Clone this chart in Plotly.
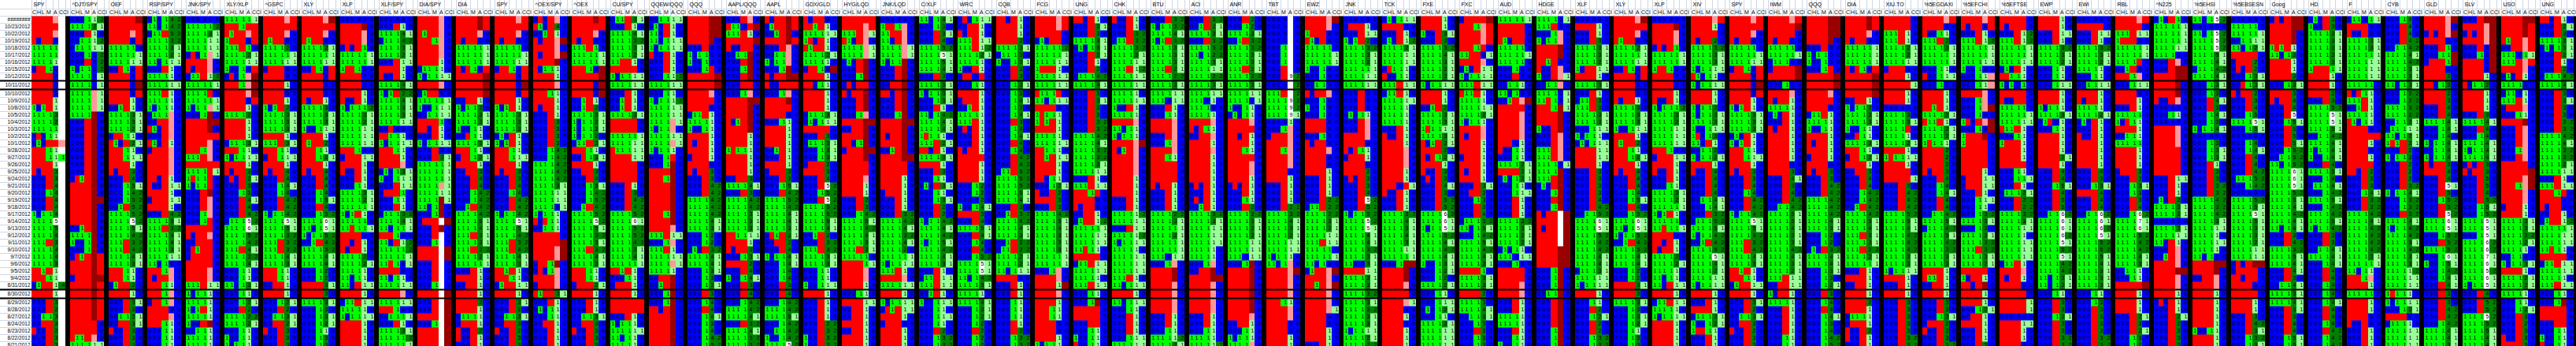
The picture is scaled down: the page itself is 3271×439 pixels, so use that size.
import sys
import plotly.graph_objects as go

# row labels (first one is too wide for the cell in the sheet)
dates = ["########", "10/23/2012", "10/22/2012", "10/19/2012", "10/18/2012", "10/17/2012",
         "10/16/2012", "10/15/2012", "10/12/2012", "10/11/2012", "10/10/2012", "10/9/2012",
         "10/8/2012", "10/5/2012", "10/4/2012", "10/3/2012", "10/2/2012", "10/1/2012",
         "9/28/2012", "9/27/2012", "9/26/2012", "9/25/2012", "9/24/2012", "9/21/2012",
         "9/20/2012", "9/19/2012", "9/18/2012", "9/17/2012", "9/14/2012", "9/13/2012",
         "9/12/2012", "9/11/2012", "9/10/2012", "9/7/2012", "9/6/2012", "9/5/2012",
         "9/4/2012", "8/31/2012", "8/30/2012", "8/29/2012", "8/28/2012", "8/27/2012",
         "8/24/2012", "8/23/2012", "8/22/2012", "8/21/2012"]
col_names = ["C", "H", "L", "M", "A", "CCI"]

# one token per date, one letter per column (C H L M A CCI)
# r=-1 red, g=1 green, b=0 blue, l=1 light green, 2-5 dark green, p pink, m maroon,
# w blank, F/S/N/7 = 5/6/9/7 on white
SPY_1 = ("rrrrpw rrrrrw rrrrpw rbrrbw gggggw gggggw gggglw brrgbw rrrrbw rrrrbw "
         "rrrrbw rrrrlw gbgrlw gggg3w gggg2w gggggw brbglw bgbrrp rrrglw rrrglg "
         "rrrrlw rbrr3w bbbr3w bbbr4w bbbg4w bbbr4w bbbr4w gbgg4w ggggFw gggg5w "
         "gggg4w gggr3w gggg4w gggg4w gggg3w rrgrlw rrrglw bgrrl4 rrrrlw bbbr3w "
         "bbbr2w bbgg3w bbrr3w rbbr2w bbbr3w bbbr3w")
DJT_SPY = ("bbbgl2 gggg2l bbbrlb bbggl2 bgggll bbbgb2 bbbrb2 gbggb2 ggggbl ggggbl "
           "ggggpl ggggpl ggggpl ggggmb bbbrmb bbbrmb bbbrmb bbbrmb bbbrmb bbbrmb "
           "bbbrmb bbbrmb brgrmb rrrrmb rrrrmb rrrrmm rrrrmb rrrrmb rrrrmb bbgrmb "
           "ggggmb gbbgmb bbbgmb brgrmr rrrrmr rrrrmr brrrmm rrrrmr rrrrmr rrrrmr "
           "rrrrmr rrrrmr rrrrrb rrrrrb rggrpb ggggll")
OEF = ("rrrrrm rrrrrr rrrrpr rrrrbr gggggb gggggl ggggll bbrgbr rrrrbr rrrrbm "
       "rrrrbr rrrrlb bbgrlb gggg3l gggg3l gggg2l brrglb rgbr2l rrrglb rrrgll "
       "rrrrlb rbrr3b bbbr4b bbbg5l bbbg42 bbbg52 bbgr52 gggg52 ggggF2 gggg5l "
       "gggg42 gggr32 gggr42 gggg4l gggg3l rrrglb rrrglb bgrr2b rrrrlb bbbr3l "
       "bbbr3b bbgg3l bbrr3l rbbr3b bbbr3b bbbr3b")
RSP_SPY = ("bgbg42 ggbg42 bggr52 gggg32 gggg3l gggg2l ggbgll bbbrlb gggglb ggggll "
           "gggrlb gggglb gbgglb bgggpb bbrrpb rgbrpb bbbrpb rgbrlb brrrpb rrrrpb "
           "rrrrpb rrrrpb rrbrlb rbbrll rrrrlb brrrll rrrrlb bbbr42 gggg5l gggr32 "
           "gggg4l gggg4l gggg3l ggggll ggbgbb rrrgpb rbrrpb rrrglb rrrgpb brrgpb "
           "rrrrbb rrrrpb rrrglb bbbglb bbbglb bbbglb")
JNK_SPY = ("bbbbbb ggggg2 gggg3l ggggll ggggll brbgpl rrrrpb rbrrpb bggrl2 gggggl "
           "ggggrb gggggl gbggpl bbbgmb rrrrmm rrrrmb rrrrrr rrrrpb rrrgpb gggrpb "
           "rrrrrr ggggrl grggrb gbggrb bbbrmb bbbrpb bbbrpb bbbgpb bbbgrb rrrrrb "
           "rbrrpb bbrrrb brgrrb brrrrb rrrrrb rrrrpb rrrrpb gggrll gbgglb gggglb "
           "gbgrlb gggglb gbbrmb bbgglb gggglb gggglb")
XLY_XLP = ("gggggl rrrgrr rgrrpr grrrbr gggrgb gggg2l ggggll gbbgbr brbgpm rrrgpm "
           "rrrrpm rrrrbr rrrrlb gggg2b rrrrlb rrrrlb rrrrlb bggg3l rrrglb gbggll "
           "rrrrlb rbrr3b brbr2l bbbr3b bbbg3b bbbr4l bbbr4b bbbr42 bgggF2 ggggSl "
           "gggg52 gggg42 gggr4l gggg32 gggg4l bbbglb bbbglb ggbg3l bbbglb bbbg2l "
           "bbbr2b gggg22 gggg2l bbbglb gbbglb gbgglb")
GSPC = ("rrrrpr rrrrrr rrrrpb rgrrbb gggg2b gggggl ggggll brrrbb rrrrbb rrrrlb "
        "rrrrbb rrrrlb gbgr2b gggg3l gggg3l gggg3l rrrrlb gggr3l rrrglb brrgll "
        "rrrrlb rbrr4b bbbr4b bbbg4l bbbg4b bbbr42 bbbr42 gbgg42 ggggFl gggg5l "
        "gggg32 gggr32 gggr32 gggg4l gggg3l rrrglb rrrglb bbrrlb rrrrlb bbbg2l "
        "bbbr2b bbgg3l bbrr2l rbbr3b bbbr3b bbbr3b")
XLY = ("rrrrpm rrrrrr rrrrpb rgrrbb gggg2l gggggl ggggll bbrgbr rrrrbr rrrrbb "
       "rrrrbb rbrrlb gggg3b gggg3l gggg3l gbbgll rrrrlb rgrr2b rrrglb rrrg2l "
       "rrrrlb rbrr4b bbbr4b bbbr4b bbbg4b bbbg5l bbbr4b bbbg52 ggggSl ggbgFl "
       "gbgg52 bbgr42 gggg52 gggg4l gggg4l bbbg2b bbbg2b rrrr3l rrrr3b gggg3l "
       "bbbg3b bbbg3l bbbg2l bbbglb bbbg3b bbbg3b")
XLP = ("bbbbbb rrrrmb rrrrpb rrrrpb brbrgb gggggl gggggl grrgbb rrrrbb rrrrbb "
       "rrrrlb rbbrlb gbggg2 gggg3l gggg2l ggggll ggggll ggggll rrrgbb brrrll "
       "rrrrlb rbbrlb bbbrlb bbbglb gggg3l gggg2l gggggl gbgrlb gggggb ggrggl "
       "rrrrbb rrbrlb rbrrlb gggg2b gggg2l gggglb ggbglb ggbrll rrrrlb bggrll "
       "gggglb gbggll rrrrlb rrrrlb rrrrlb rrrrlb")
XLF_SPY = ("bbbbbb bbbrlb gggg4l bggg42 gggg3l gggg2l bbbrll rrrrlb rbbrlb gggg4l "
           "gbgr22 gggg4l gggg3l gggg3l ggggll bbrbbb rrgglb gbggll rrrglb rrrrlb "
           "rrrrpb bgbg3l gbbgll bbbrll brrrgb bbbglb bbbrlb bggg32 gggg4l ggbggl "
           "rrrgbb ggbrl2 ggggg2 gggggl ggrgbl rrrrbb ggbglb ggggll rrrrpb ggggll "
           "rrrgbb bbgggl bbbrlb gggg3l ggggg2 gggggl")
DIA_SPY = ("rrrrpb rrrrpb rgrrpb rrrgpb rrrrpb rrrrpb rrrrlb bggglb gbggll rrrrpb "
           "bgrrbb gggggl gbbgll bbggll rrrrgb rrbrlb bbbrlb gbggll bbbrbb bbbr2l "
           "gggggl gggggl gggggl ggggpl ggggll ggggml ggbgmb bbbgmb brrrwm bbbrmb "
           "bbbrwb bbbgwb rrrrwm rrrrwm bbbrwb bbbrwb bbbrwb bbbgwb rrrrwm bbbrwm "
           "bbbrwm rrrrwm bbbgwm rrrrwm rrrrwm rrrrwm")
DIA = ("rrrrmr rrrrmr rrrrpb rbrrbb gggggl gggggl gggggl rbrgbr rrrrrm rrrrrm "
       "rrrrrm bbrrlb gbgg2b gggg3l gggg3l gbbglb bbrglb gggg3l rrrglb brrg2l "
       "rrrrlb bbrr3b bbbr4b bbbr4b bbbg42 bbbg42 bbgr42 gggg42 gggg5l gggg4l "
       "gggr3l gggg3l gggr22 gggg2l gggggl bbbrlb rrrrlb bbrrlb rrrrlb rrrr2b "
       "rrrrlb bggglb brrrlb rbbr2b rbbrlb bbbrlb")
SPY = ("rrrrpr rrrrrr rrrrpb rbrrbb gggggb gggggl ggggll brrgbr rrrrbr rrrrbm "
       "rrrrbr rrrrlb gbgrlb gggg3l gggg3l gggg3l bgbrlb gbgrlb rrrglb rrrgll "
       "rrrrlb rbrr3b bbbr3b bbbr4b bbbg4b bbbr42 bbbr42 gbgg42 ggggFl gggg5l "
       "gggg42 gggr32 gggr42 gggg4l gggg3l rrgrlb rrrglb bgrrll rrrrlb bbbr3l "
       "bbbr2b bbgg3l bbrr3b rbbr2b bbbr3b bbbr3b")
OEX_SPY = ("brbrpb rgbr4b bbgrlb rbrrpm rrrrpb rbrrpm rrrrmb rbgglb rrrrlb rrrrpb "
           "rrrglb rrrrlb rbrrlb bbbrlb bbbr3b bbbr3b bbbr3b bbbr3b bbbg42 bbbg42 "
           "gggg42 gggg42 gggg42 gggg3l ggggll ggggll ggggbl gbgglb rbrglb bbgglb "
           "rrrrrb rrrrrm rrrrpm rrrrpm brrgmb brbgpb rrrrpb brrrpb rgrr3l bbbrlb "
           "bgbglb bbbglb bbrrlb bbbrlb bbbrlb bbbrlb")
OEX = ("rrrrmr rrrrrr rrrrpb rbrrbb gggrgb gggggl gggggl rrrgbm rrrrrm rrrrbm "
       "rrrrbm bbgrlb bbgr2b gggg3l gbgg2l gbgg2l gbgg2b bggr3l rrrglb bbrg3l "
       "rrrrlb bbrr3b bbbr4b bbbg5l bbbg42 bbbg52 bbgr42 gggg52 ggggF2 gggg5l "
       "gggg32 gggg3l gggr32 gggg4l gggg3l rrrglb rrrglb brrr2l rrrrlb bbbrlb "
       "bbbrlb bbgg3l bbrr3b rbbr3b bbbr3b bbbr3b")
CU_SPY = ("bggr3l bbbrlb gggg4l gggg32 gggg3l gggg2l ggrrlb rrrrrb gbggll ggggll "
          "bbbrlb bbgrlb bbgrlb gggg3l rrrrrb rrrrrb gggggl ggggll rgggll rrrrll "
          "rrrrrb rrrrrb rrrrrb bbbrlb bbbr3b bbbr42 bbbr42 gggg52 ggggSl gggg52 "
          "gggg52 gggg42 gggg3l gggg4l gggggl rrgrlb bbbglb brrrlb rrrrlb rrrrrr "
          "rrrrrr bbbrlb gbgglb ggggll ggbglb gggglb")
QQEW_QQQ = ("bbggll bgbrlb ggbrlb ggbgll gbggll rbbrlb bbbrlb bbbrlb bbbgl2 ggggll "
            "bbbglb gbggl2 ggggll ggggll ggggpl gbggpb ggggll ggggpl gbgglb bbbgrb "
            "bbbgmb rrrrmb rrrgmb rrrrmb rrrrmb rrrrmb rrrrmb rrrgmb rrrrmb rrrrpb "
            "gggrll bbbgpb gggrlb ggggll ggggpl gggglb bbrrmb bbgrmb bbbgmb bbbgmb "
            "rrbrmb rrrrmb rrrrmb rrrrmb rrrrmb rrrrmb")
QQQ = ("rrrrmm rrrrmm rrrrmm rrrrmb bbbrbb gbggbb gbbgbb bbbgrb rrrrrm rrrrrm "
       "rrrrpb rrrrrb rrrrbb bggrlb gggglb gbbglb rrrrlb rbrrlb rrrrlb brrrlb "
       "rrrrbb rbrr3b bbbr3b bbbr42 bbbr42 gggg42 gggg42 gggg42 gggg4l gggg3l "
       "bbbg2b bbbg2b bgbr32 gggg4l gggg4l bbbg3l bbbg3b bbbg2l bbbr3b bbbg4b "
       "bbbr4b bbbg4l bbbg3b bbbg4b bbbg42 bbbg52")
AAPL_QQQ = ("bbbrpb rggbrm gggrlb rrrrrm rbbrrb bbggmb bbbrmb bbbgmb bbbrmb bbbrrb "
            "bbbgpb rrrrmm rrrrmb rrrrmb rbgrmb rrrrmb rrrrlb rrrrlb grgglb rrrrlb "
            "rrrrlb rrrrlb bbrr3b gggg4l bbbr3b gggg42 gggg42 gggg3l gggg3l gggg3l "
            "rrggll rrrrlb rbrr3b bbbg3l rrrr2b bbbr4b gbbg4l bbbr3b bbbr4b bbbg42 "
            "gggg42 gggg4l bbbr32 gggg4l gggg32 gggg32")
AAPL = ("rbrrmr bgrrmr bbgrmb rrrrmr bbbrpb bbggpb gbggpb bbbgmb rbrrmm rbbrrr "
        "bbbgpb rrrrmb rrrrrb rrrrbb bbbglb rrrrlb rrrrlb rrrrlb bbgrlb bbbrlb "
        "rrrrlb brrr3b bbbr3b bbbg5l bbbr42 gggg52 gggg42 gggg4l gggg4l gggg3l "
        "brgr2l bbrr2b bbbr4b gbgg4l bbbg4l bbbg4b bbbg4b bbbr3b bbbr4b bbbg42 "
        "gggg42 gggg5l bbbg42 bbgg42 gbbg42 ggggF2")
GDX_GLD = ("rbrrbb rrgrlb ggggll grbrlb rgrrlb gggg2l gggglb brrgbm rrrrlb rrbglb "
           "rrrrlb rrrrlb rrrrlb bggg3l bgbgll rrrrrb bbbr3b bggg3l bbbg3l bbbg3l "
           "brrr2b rrrr3b bbbr4b bbbrF2 bbbg52 bbbrF2 gggg52 gggg52 gggg5l gggg4l "
           "bbgr2b bbbr32 gggr32 gggg3l gggg3l bbbglb bbbglb gbbgll rrrrlb bbbrlb "
           "bbbrlb bbbrlb bbbr22 bbbr32 gbbr32 gbbr32")
HYG_LQD = ("rrrrrr rrrrpr gggrpl rgbrpb ggggpl ggggpl bgbrmb bbbrmb bbbgmb brbrrb "
           "rbrrmb bbbrmb bbbrmb bbbgpb rrrrmm bbrrmb rrrrmb rrbgmb brrrmm rrrrmb "
           "rrrrrb rrrrrb rrrrpb rrrrlb rrrrlb bbbr2b bbbr3b bbbg42 gggg5l gggg42 "
           "gggg4l gggg3l gggr2l gggggb rrrrgl rrrrpb rrrrpb rrrrlb bbbglb rrrrll "
           "bbrrlb bbrrlb rrrrlb bbrrlb rrrrlb rrrrlb")
JNK_LQD = ("bbbbbb grrgpb ggrrpb ggbrpb ggggpl ggggpl gbggmb bbbrmb bbbrmb bbrrmb "
           "rrbrmb bbbrmb bbbrmb bbbgmb rrrrmm rrrrmb rbrrmb rrrrmb bbgrmb rrrrmm "
           "rrrrrb rrrrrb rrrrlb rrrrlb brrrlb bbbrlb bbbrlb bbbr32 gggg42 gggg4l "
           "gggg32 gggg4l gggg2b gggggl gbggll gggrlb rrrrpb ggggll rrrrlb gbggll "
           "brgrll rrrrlb brrrbb rrrrlb rrrrlb rrrrlb")
C_XLF = ("ggbg4l bbbg3b bbbr3l bbbr4b gggg52 ggggFl gggg5l gggg4l bbbr3b gggg5l "
         "gbgg3l bbbg3l bbbrlb ggbg42 gggg4l gggg4l grgglb gggr2l rrbrlb gggg3l "
         "rrrrlb bbbr3b bbbglb bgbr3l bbbglb bbbg3l bbbr2b bbbr2b gbgg42 gggg4l "
         "gggg42 gbgg5l gggg42 gggg4l gggg3l bbbrlb bggrll gggrll bbgrlb gbbgll "
         "bbbglb bbbgll bbbglb bbbr2b bbbg32 bbbg32")
WRC = ("brbgll bbrrlb rbrrlb gggrll gggrl2 gggg2l gggglb gbbrlb brrbrb bbbglb "
       "rrrrlb brrrlb bbgrlb gggglb gggrlb brbrlb bbbrlb bbbrlb rbrrlb rrrrrb "
       "rrrrlb rrrrlb rrrrlb bbbg2b bbbg2b bbbb2b gbbg4l rrrr3b bbbr4b gggg5l "
       "bbbr4l bbbg4b bbbr4b bbbg52 ggggFl ggggFl ggbg42 gggg5l gggglb gggg4l "
       "bbbg3l bbbg2l bbbg2b bbbr2b bbbg2b bbbg2b")
CQB = ("rrbrlb rrrrlb rrrrlb rrrr2b gggg3l bggg3b gbbg3l bbbr3b bbbr3b bbbg3l "
       "bbbg3b bbbg4l bbbg3b bbbg4l bbbr3b bbbg4b bbbg4l bbbr4b bbbg4b bbbr42 "
       "bbbr42 bggr52 gggg52 gggg52 gggg5l gggg4l bbbr3b bbgr32 gggg42 gggg4l "
       "gggg3l bbgr22 bggr22 gggg2l gggg2l ggbgll rrrrbb bbbrlb bbbrlb bbbglb "
       "bbbglb bbbglb bbbrlb bbbr2b bbbg32 bbbg32")
FCG = ("rrrrpr rrrrpr rrrrrb bgbrrb ggggg2 gggggl ggggll grrrlb ggggll ggggll "
       "rgggrb ggbgll rrrrbb grgglb grgrlb rrrrlb gggglb ggggll rrgglb rrgrll "
       "rrrrlb rrrrlb rrbglb bbbg2l rbbr2b rrrr3b bbbr3b gggg42 gggg5l gggg4l "
       "gggg3l gggg3l gggg3l gggggl gggggl bbbgpb rrrrpb rrrrlm rrrrpb rrrrlb "
       "rrrglb rrrglb rrrrbb rrrrbb rrrrlb gbgglb")
UNG = ("rrbrlb bbbr2l bbbr3b gggg3l bgbg3l bbbr2l bbbrlb bbbr2b bggg42 gggg4l "
       "bbbr3b bbbr3l bbbr3b bbbr3b bbbr32 bbbr32 gggg42 gggg4l gggg32 gggg32 "
       "gggg2l ggggll bbbrlb gggrll rrrgrb rrrrbb rbrrbb bbrrlb bgrrl2 gggggl "
       "ggggll ggggll ggrglb rrrrrb bggrll ggggll gggglb gggrll bbbglb bbbgmb "
       "rrrrrb rrrrrb bbbrrb bbbglb gbbglb rbbglb")
CHK = ("rbbrlb bbbrlb bbbr32 bggr32 gggg32 gggg3l ggggll gggrl2 ggggll ggggll "
       "gggglb ggggll gbbrlb gggglb rrrrpb ggbglb gbgglb rrrrpm rbgrpb rrrrpb "
       "rrrrpb rrrrpb rrrrlb rrrrlb rrrrlb bbbrlb bbbrlb ggggl2 ggggll bbbrll "
       "ggggl2 gbggll gggglb ggggll ggggll ggggll gggrlb ggbgll rrrrlb ggbgll "
       "bbbglb bbbrlb bbbrlb bbbrlb bbbgll ggggll")
BTU = ("bbbr32 gbgg32 gggg4l gbgr32 gggg3l gggg3l gggg3l gggr2l gggg22 gggg3l "
       "ggggll gggbll bbbrlb bbbglb rrrrpb rrrrpb bbbrpb bbbgpb rrrrpb rrrglb "
       "rrrrrb rrrrrb rrrrrb rbrrlb bbbrlb bbbrlb bbbrlb gggg22 gggg3l gggggl "
       "gggg2l gggggl gggggl gggbll bbbgpb rrrrmb rrrrmb rrrrpb rrrrpb rrrrpb "
       "rrrrpb bbbrlb bbbrlb bbbglb ggggl2 gggg2l")
ACI = ("bbbr32 bbgr2l gggg3l bbbr32 gggg32 ggbg22 gggg3l ggggll gggg22 gggg3l "
       "ggggll gggblb ggggbb gggglb rrrrpb rbrglb bbrrpb rrrrlb rrrrpb rrrrlb "
       "rrrrlb rrrrlb rrrrlb brbrlb bbbrlb brbrlb bbgrlb gggg32 gggg3l ggggll "
       "ggggll ggggll gggglb gggglb bbbgpb bbrrmb rrrrmm rrrrpb rrrrpb rrrrpb "
       "rrrrpb bbbrlb bbbrlb bbbglb gggglb ggggl2")
ANR = ("bbbr2b bbbg2b gggg3l bbgr32 gggg32 gggg3l gggg3l gggr2l gggg22 gggg3l "
       "ggggll ggggbl gbbglb bgbglb rrrrpb rrrrrb rrbrlb rrrrlb rrrglb rrrrrb "
       "rrrrpb rrrrpb rrrrlb brbrlb bbbrlb bbbglb bbbr2b gggg22 gggg3l gggg2l "
       "gggg2l ggggll ggggll gggbll bbbgmb rrrrmb rrrrmb rrrrmb rrrrmb rrrrmb "
       "rrrrmb rrrrpb bbrrlb bbbglb gbgglb ggggpb")
TBT = ("bbbbwb bbbbwb bbbbwb bbbbwb bbbgwb bbbgwb bbbgwb bbbrwb bbbrN2 bbbbw2 "
       "gggrw2 ggggN2 ggggN2 ggggNl bbbblb bbbgpb brrrpb rrrrpb rrrgpb rrrrpb "
       "rrrrpb rrrrbb rrrrlb bbbrlb bbbrlb bbbrlb bbbr22 gggg32 gggg4l gggg3l "
       "gggg2l ggggll ggggll gbgglb ggbgpb rrrrpm rrrrpb rrrrpb rrrrpb rrrglb "
       "rrrrpb rrrrpb rrrrbb rrrrbb rrrrlb rrrrlb")
EWZ = ("rrrrpm rrrrpb grrrbb rgbrbb gggggb gggggl gggggl gbbgbb bbbgbb bbggbb "
       "rbrrpb bbbgbb gbbgbb bbbgbb rrrrbb rrrrbb bbbgbb rbrrbb rrrrpb rrrrbb "
       "rrrrbb rrrrlb bbbrlb bbbrlb bbbrlb bbbr22 bggr22 gggg22 gggg3l gggg2l "
       "ggggll gggrll gggggb gggggl ggbgbb bgrrpm rrrrpb rrgrpm rrrrpb rrrrpb "
       "rrrrpl rrrrbb rrrrbb rrrrlb rrrrlb bbbrlb")
JNK = ("bbbbbb brrrlb bbbrll gbgr2b gggg32 gggg3l gggg2l gggggl ggggll ggggll "
       "bbbrbb bbbrbb bbbrbb bgbglb bbbrpb bbbrpb rrrrpb rrrrbb rbrglb brrrlb "
       "rrrrbb rrrr2b brbr3b bbbr3b bbbr4b bbbrF2 bbbr52 gbgg52 ggggF2 ggggFl "
       "gggg4l gggg4l gggg32 gggg3l ggbb3l rrrrll gggg3l gggg3l gggg32 gggg3l "
       "gggg32 gggg3l gggg3l gbggll gggg2l gggg22")
TCK = ("bgbgll rrrrbb bbbrlb bgbrl2 gggg2l ggggll ggggll brgglb rbbglb gggrll "
       "bggrlb ggggll gggglb gggglb gggglb bbbrlb rbbrlb rrrrlb rrrrpb rrrrpb "
       "rrrrpb rrrrlb rrrrlb rrrbrl rbbrlb bbbrlb bbbrlb gggg32 gggg4l gggg3l "
       "gggg4l gggg3l ggggll gggggl bbbgmm rrrrmb rrrrmb rrrrpb rrrrrb rrrrpl "
       "rrrrbb rrrrlb rrrrbb rrrrlb rrrrlb rrrrlb")
FXE = ("rrrrlb rrrrlb gbbr3l bbbr3b gggg32 gggg4l gggg3l gggg2l gggg2l gbggll "
       "rrrrlb rrrrlb bbgr2b gggg3l gggg3l grggll gggg3l rbgr2l rrrr2b rbrg2l "
       "rrrrlb rbbr3b brbr3b bbbr4l bbbr3b bbbr52 bbbr52 ggggS2 ggggSl gbggFl "
       "gggg52 gggg4l gggg42 gggg4l gbbg3l bbbg2l bbbg2b gggg2l bbbglb bbbgll "
       "bgbg2l bbbglb gggg2l ggggll ggggll ggggll")
FXC = ("brrrrm rrrgpr rrrrpr rrrrpr rrrgrb ggrrbl rrrrpb bgbrll gbggll gggrll "
       "rggrlb gggglb ggggll gggg2l gbgglb rrrrpb rbrrpb rrrrlb rrrrlb brrrlb "
       "rrrrlb rbrrlb rrrrlb bbbr3l bbrr2b bbbg3b bbbr3b bbbr4b bggg52 ggbg5l "
       "bbbg42 gggg5l gggg42 gggg4l gggg3l rrrrgb gggg3l gggg3l rrrr2b gggg3b "
       "gggg4l bbgg3l bbbg3b bbbr3b bbbg3b bbbg3b")
AUD = ("gggggl rrrrrb rrrrrb rgbrrb gggggb gggggl gggggb bbbgbb bbbrbb bbgglb "
       "ggbgbb bbgrpm rrrrrb rrrrpb rrrrpb rrrrpb rrrrpb rrrblb rbbglb bbbglb "
       "gggg2l rrrr2l bgbg2l bbbglb bbbgll bbbrlb bbbrlb bbbrlb gggg32 gggg3l "
       "gggg2l gggg2l bgbglb gggbll bbbgbb rrrrrb rrrrrb rrrrpb rrrrpb bbbrlb "
       "bbbrlb gggglb gggglb bbbrlb bbbglb gbbglb")
HDGE = ("ggggbl gggrbb bbbgpb gbggpb rrrrmb rrrrmb rrgrbb rbbrpb gbbrpl bbggpb "
        "ggggbl ggrgbl rrrgml rrrrmb rrrrmb gbbrmb bbbrpb bbbrpb gggrpb gggrpb "
        "ggggbl ggggmb gggrmb bgbrmb bbbgmb bbbrmb bbbgmb rbrrwm rrrrwm rbrrwm "
        "rrrrwm rrrrwm rrrrmm rrrrmm rrrrmm bbbgmb bbbgmb bbbgmb bbggmb bbbrmb "
        "bbbrmb bbbrmb bbbrmb bbbgmb bbbgmb bbbgmb")
XLF = ("bbbbbb rrrrlb bbbrlb bbbr3b gggg3l gggg3l gggg2l gbrrll rrrrlb gggg3l "
       "bbbrlb bggr3b gggr3b gggg3l gggg3l bbbgll gbgglb bgbgll rrrrll rrrrll "
       "rrrrlb bbbr3b bbbr3b bbbr3b bbbr3b bbbr4b bbbr42 bbgg52 ggggSl ggggFl "
       "gggg52 gggg42 gggg42 gggg4l gggg4l bggg3l ggggll gbggll rrrrlb bbbglb "
       "bbbr2b bbbg2l bbbr2b bbbr2b bbbg32 bbbg32")
XIV = ("rrrrpr rrrrlb rrrrrb rbrr2b gggg32 gggg3l gggg3l gbggll rgbglb gbggll "
       "rrrrlb rrrrlb gbgg2b gbgg3l gggg3l gbbgll grbg3b ggbrlb bbgg2b gbgg2l "
       "rrrrlb rbbr4b bbbr4b bbbr4b bbbr4b bbgg4l bbbg4l bbbr32 bggg52 gggg5l "
       "gbgg42 bbgr42 gggg52 ggggFl gggg4l gggg2l ggggll gbggll rrrrlb bbbrlb "
       "rrrrlb bggg3l gbbg2l grrglb bbbrlb bbbrlb")
IWM = ("rrrrpr rrrrrm rrrrrb rbrrbb gggggb gggggl bgggbb brrrrm rrrrrm bbbgbb "
       "rrrrpb rbrrlb gggglb bgbrlb bbbrlb rbrrlb rrrrlb rrrrlb rrrrlb rrrrlb "
       "rrrrbb rrrr3b bbbr4l bbbr3b bbbr4b bbbr42 bbgg42 gggg5l gggg5l gggg4l "
       "gggg3l gggg3l gggg42 gggg4l gggg3l gggg2l gggrll bbrrll gbrrlb gggglb "
       "bbbrlb bbbrlb bbbrlb bbbrlb bbbglb bbbglb")
XIU_TO = ("rrrrrb rrrrrb gggrlb gggrlb gggg2l gggg2l ggggll brrrbb rrrrlb rrrrrl "
          "rrrrlb rrrrlb bbbbbb gggg3b gggg3l ggggrb gggglb gggg2l rrrrlb grggll "
          "rrrrlb rrrrrb rrrrrl bbbr3b bbbr42 bbbr42 bbbr42 gggg52 gggg5l gggg4l "
          "gggg42 gggg42 gggg42 gggg3l gggg3l gbggll rrrrlb bbbrlb rrrrlb bbbr3b "
          "bbbr3b bbbr3b bbbr3b bbbr3b bbbr32 bbbr32")
GDAXI = ("rrrrpr rrrrbb rbbglb gggr2b gggg3l gggggl gggggl bbbglb rbbgll bbbgbb "
         "rrrrlb rrrrlb rrgrlb gggg2l rggrlb gggg2l gggg2l grgglb rrrr2b rrrr2b "
         "rrrr2b rbrr3b bbbr4b bbbg4b bbbg4l bbbr4b bbbr4b bbgg42 gggg5l bggg42 "
         "gggg5l gggg42 gggg32 gggg3l gggg3l rrrrlb rggrlb bbrrlb rrrrlb bbbr3b "
         "bbbr3b bbbg3l brrr2b rbbr3b bbbr3b bbbr32")
FCHI = ("rrrrpr rbrrbr bbbrlb gggrl2 gggggl gggggl ggggll gbbgbb bbbglp bbbglp "
        "rrrrpb bbbgpb bbbgpm bbbgbb grbrpm bbbgbm grrrmb grrrrb rrrrrb rrrrrb "
        "rrrrrb rrrrlb brrrll brrrll bbbrlb bbbgll bbbglb bbbg32 gggg3l bbbg3b "
        "gggg3l gggg32 gggr32 gggg3l gggg2l rrrrrb gbrrlb rrbrmb rrrrlb rrrrlb "
        "bbbg2l bbrrlb rrrrlb bbbrlb bbbrlb bbbr3b")
FTSE = ("rrrrrb rbrrrb bbbrl2 gggrl2 gggggl gggggl ggggll bgbrlb rrgglb gbgbgb "
        "rrrrrb rbbrrb gggggb gggggl ggggll rggrlb bbbglb grrrlb rrrrlb rrrrlb "
        "rrrrrb bbbglb bbbggl bbbrlb bggg2l bbbr22 bbbr22 gggg32 gggg3l ggggll "
        "gggglb ggggll ggggll ggggll bggrlb rrrrpb rbrrlb rrrrbb rrrrrb rrrrrl "
        "rrrrrl bbbbbb rrrrll rrrrlb rrrrlb rrrrbb")
EWP = ("rrrrlb rrrrlb bbbrll bbbrlb gggg32 gggg3l gggg2l bbbglb bbbglb bbbgll "
       "rrrrlb rrrrlb gbgglb gggg3l bgrblb bbbglb rrrrlb rrrrlb rrrrlb rrrr2l "
       "rrrrlb bbbr4b bbbr4b bbbg5l bbbr4b bbbr5b bbbr5b bbggS2 ggggSl ggggSl "
       "ggggS2 ggggFl gggg52 ggggFl gggg42 gggg42 ggbg3l ggbg3l bbbglb bbbr3b "
       "bbbr3b bbbg3l bbbr3b bbbr3b bbbr32 bbbr32")
EWI = ("bbbbbb rrrrrb bbbrll bbbrlb gggg32 gggg3l gggg2l gggglb bbbglb bbggll "
       "rrrrlb rbrrlb gggglb gggg2l bgbrlb bbbrlb rbbrlb rrrrlb rrrrlb rrrrlb "
       "rrrrlb bbbr4b bbbr3b bbbg3l rrrr4b bbbr4b bbbr4b bbggS2 ggggSl ggggS2 "
       "ggggFl gggg52 gggg52 gggg5l gggg4l gggg3l gggg3l gggg3l bbbglb bbbg3b "
       "bbbr3b bbbr3b bbbr3b bbbr3b bbbr32 bbbr32")
RBL = ("rrrrpr rrrrrb gggrll grrrbb gggggl gggggl ggggrb bbgrbb rrrgpb bbbgll "
       "rrrrbb rrrrlb bbbrlb gggggb gbrglb rrrrlb bbgglb gggggb rrrrlb rrrrlb "
       "rrrrlb brrr3b bbbr3b bbbg3l bbbg3b bbbr3b bbbr4b bbbgS2 gggg7l ggggSl "
       "gggg52 gggg42 gggg42 gggg4l gggg3l bbgglb bbbglb rrrrrm rrrrlb rrrrlb "
       "rrrrlb bbbr2l bbbr3b bbbr2l bbbg3b bbbg2b")
N225 = ("bgbrgb gggggl gggggl gggggl ggggll ggggbb bbbrpb bbbrmm rrrrmm rrrrmb "
        "rrrrmb rbbrpb bbbbbb bbbglb bbbbbb rrrrpb rrrrpb rrrrpb rrrrrb rrrrrb "
        "rrrrrb rrrrrb bbbrll bbbrlb bbbrlb bgbr2b gggg3l gggg3l bbbbbb gggg3l "
        "ggggll ggbrlb bbbrpb bbgrpb rrrrpb rrrrmm rrrrpb rrrrpb rrrrlb brbrlb "
        "bbbrlb bbbr2l bbbr2b bbbr3b bbbr3b bbbr3b")
HSI = ("ggbgF2 bbbbbb ggbgF2 ggggF2 ggggF2 gggg5l gggg4l bggg42 gggg4l bbbg3l "
       "bbbg3b bbbr4l bbbr3b bbbg4l bbbg3b gbgg4l bbbbbb bbbg3b bbbg3l bbbg3l "
       "bbbrlb bbbr3b bbbr3b bbbr32 bbbr32 gggg42 gggg32 gggg42 gggg3l ggggll "
       "gggglb ggggll gggglb ggbgbb rrrrmm rrrrmb bbrrpb rrrrpb rrrrlb rrrrlb "
       "rrrrlb rrrrlb rrrrlb gbbglb rrrrlb rrrrlb")
BSESN = ("bbbbbb gggggb gggggl bbggll ggbg2l rrrrrb brrr2b brbr2b bbbg3l bbrg3l "
         "rbrr2b bbbr3b bbbr4b bbbg5b ggggFl bbbg5l bbbbbb bbbg4b bbbg4l bbbr4b "
         "bbbr4b bbbr42 bggg52 bbbg42 bbbbbb gggg52 gggg5l ggggFl gggg5l gggg3l "
         "gggg3l gggg2l ggggll ggggll brbrmm brrrrb rrbrrb rrrrbb rrrrrb rrrrlb "
         "rrrrlb bbbr3b bbbr42 bbbr3l bbbg32 bbbg3l")
GOOG = ("brbrmm rrrrmm rrrrmb rrrrmb grgrlb ggbg3b rrrrlb rrrrlb rrrr3b bbbg3l "
        "rrrr3b rbrr4b bbbr4b bbbrFb bbbg5l bbbr5b bbbr5b bbbr5l bbbg52 bbgg52 "
        "ggbg52 ggggSl ggggSl ggggFl gggg52 gggg5l gggg4l gggg42 gggg4l ggbg4l "
        "bbbr3b bbbr42 gggg52 gggg5l gggg4l bbbr4l bbbr3b bbgg4l gggg3l gggg4l "
        "bbbr3l bbbr3b bbbr4b bbbr4b bbbg5l bbbg5l")
HD = ("bgbr3b gbbr3b gggg3l gggg3l gggg3l gggg3l gggg3l grrrgl rrrrlb rrrrlb "
      "rrrr2b bbbr3b gggg52 ggggFl ggggFl gggg5l bbgg42 gggg4l gbgg4l gbbg4l "
      "bbbr4b gggg5l bbbg4b bggg4l bbbg42 gggg5l bbbg42 gggg42 gggg5l gbgg42 "
      "bbbr3b bbbr3b bbgg4l gggg4l bbbg4l bbbr4b bbbr4b bbbg4b bbbg4b bbbg4l "
      "bbbr4b bbbr4b bbbg4b bbbr42 bbbg42 bbbg42")
F_ = ("bggbgl rrrrbb rbbrbb gggg3l gggg3l gggggl ggggll ggggll ggggll gggggb "
      "rbrglb gggrlb bbgrlb gggglb rgbglb rrrrbb rrrrrr rrrrlb rrrrbb rrrrlb "
      "rrrrrb rrbr2b bbbr3b bbbr3b bbbg4l bbbr32 bbbr32 gggg42 gggg4l gggg42 "
      "gggg42 gggg42 gggg42 gggg3l gggggl ggbglb rrrgpb rrrrlb gggggb rrrrlb "
      "rrrrlb rrrrbb rbbrbb bbbrlb bbbrlb bbbrlb")
CYB = ("bbbg4b bbbr4b bbbr4b bbbr42 bbgg42 gggg4l gggg42 gggg3l gggg3l ggbg3l "
       "bbbg22 bbbg22 gggg32 gggg22 bbgg2l bgggll ggbg2l grgr2l bbbr2b gbgg3b "
       "bbbr2b bbbr2b bbbr2b bbbr32 gbgg4l bbbg32 bbbg32 bbbr32 gggg4l gbgg42 "
       "gggg42 gggg3l gggg42 gggg3l gggg3l ggggl2 ggggll ggggll grgglb gbggll "
       "bbbg2l rrrrbb bggglb ggggll ggggll ggggll")
GLD = ("rrrrpm rrrrpb brbrpm rrrrbb bbbrgb bbbggm brrrgm rrrrbb rrrr2b rrbg3b "
       "rrrr2b rrrr3b bbbr4b bbbr4b gggg4l bbbg4l bbbg4b gbgg4l bbgg4l gbgg4l "
       "rbrr3b rrrr4b bbbr4b bbbrFl bbbr5b bbbg52 bbbr52 bbbrF2 ggggSl ggggFl "
       "bbbg52 bbbr52 gggg52 bbbgSl gbbg5l bbbg42 bbbg4l bbbr4l bbbr3b bbbr3b "
       "bbbr42 bbbr42 bbbg42 gggg4l gggg4l gggg3l")
SLV = ("bbbrmm rrrrpm brbrpm rrrrpm bbbrbm bbbgbm rrrrbm rrrrbm rrrrlb rbgg2b "
       "rrrrlb rrrrlb rrrrlb bbbr3b gggg4l bbbr4b bbbg4b gggg4l gbgg4l gggg4l "
       "brbr3b rbrr3b bbbr5b bbbr5b bbbr4b bbbr52 bbbg5l bbbg52 ggggFl ggggFl "
       "bbbgFl ggggS2 ggggS2 gggg7l ggggSl ggggF2 ggggSl gbggFl bbbr4b bbbr52 "
       "bbbr52 ggggF2 gggg52 gggg5l gggg4l gggg4l")
USO = ("rrrrmm rrrrmr rrrrmr rgrrpr bbrrpr gggbgl gggrpr rrrrpb bgbrlb ggggbb "
       "bggblb gggrlb brrrpb bbbglb rrrrmb bbbrpb bbbrpb bbbrpb bbbgpb bbbrpb "
       "rrrrrb rrrrrm rrrrpm rrrgpm rrrrpb rrrrpb brrrlb rrrrlb gggg3l gggg3l "
       "gggg22 gggg2l gggglb bbggbb gbgg3l rrrrlb gggg2l gggg2l gggglb bbbglb "
       "bbbg2l bbbr3b bbbr2b bbbr3b rbbr3b rrrr3b")

groups = [
    ("SPY", SPY_1), ("^DJT/SPY", DJT_SPY), ("OEF", OEF), ("RSP/SPY", RSP_SPY),
    ("JNK/SPY", JNK_SPY), ("XLY/XLP", XLY_XLP), ("^GSPC", GSPC), ("XLY", XLY),
    ("XLP", XLP), ("XLF/SPY", XLF_SPY), ("DIA/SPY", DIA_SPY), ("DIA", DIA),
    ("SPY", SPY), ("^OEX/SPY", OEX_SPY), ("^OEX", OEX), ("CU/SPY", CU_SPY),
    ("QQEW/QQQ", QQEW_QQQ), ("QQQ", QQQ), ("AAPL/QQQ", AAPL_QQQ), ("AAPL", AAPL),
    ("GDX/GLD", GDX_GLD), ("HYG/LQD", HYG_LQD), ("JNK/LQD", JNK_LQD), ("C/XLF", C_XLF),
    ("WRC", WRC), ("CQB", CQB), ("FCG", FCG), ("UNG", UNG), ("CHK", CHK), ("BTU", BTU),
    ("ACI", ACI), ("ANR", ANR), ("TBT", TBT), ("EWZ", EWZ), ("JNK", JNK), ("TCK", TCK),
    ("FXE", FXE), ("FXC", FXC), ("AUD", AUD), ("HDGE", HDGE), ("XLF", XLF), ("XLY", XLY),
    ("XLP", XLP), ("XIV", XIV), ("SPY", SPY), ("IWM", IWM), ("QQQ", QQQ), ("DIA", DIA),
    ("XIU.TO", XIU_TO), ("%5EGDAXI", GDAXI), ("%5EFCHI", FCHI), ("%5EFTSE", FTSE),
    ("EWP", EWP), ("EWI", EWI), ("RBL", RBL), ("^N225", N225), ("%5EHSI", HSI),
    ("%5EBSESN", BSESN), ("Goog", GOOG), ("HD", HD), ("F", F_), ("CYB", CYB),
    ("GLD", GLD), ("SLV", SLV), ("USO", USO), ("UNG", UNG),
]

# sheet geometry (pixels)
W, H = 3271, 439
date_w = 40
col_w = [6, 6, 6, 9, 7, 9, 6]      # C H L M A CCI + black spacer
row_h = 9
rule_h = 2
top = 20.5
rule_after = {8, 9, 37, 38}        # thick black rules around 10/11 and 8/30

colors = ["#000000", "#FF0000", "#00FF00", "#0000FF", "#99FF99",
          "#008000", "#FF9999", "#990000", "#FFFFFF"]
fill = {"r": 1, "g": 2, "b": 3, "l": 4, "2": 5, "3": 5, "4": 5, "5": 5,
        "p": 6, "m": 7, "w": 8, "F": 8, "S": 8, "N": 8, "7": 8}
label = {"g": "1", "l": "1", "b": "0", "2": "2", "3": "3", "4": "4", "5": "5",
         "F": "5", "S": "6", "N": "9", "7": "7"}

n = len(dates)
parsed = []
for name, s in groups:
    toks = s.split()
    if len(toks) != n:
        print(f"{name}: {len(toks)} rows", file=sys.stderr)
        toks = (toks + [toks[-1]] * n)[:n]
    parsed.append([(t + "wwwwww")[:6] for t in toks])

# column edges
xe = [0, date_w]
for _ in groups:
    for w in col_w:
        xe.append(xe[-1] + w)

# rows: data rows with thin black rule rows between some of them
ye = [top]
z = []
centers = []
ncols = 1 + len(groups) * len(col_w)
for i in range(n):
    centers.append(ye[-1] + row_h / 2)
    ye.append(ye[-1] + row_h)
    row = [None]
    for g in parsed:
        row += [fill.get(c, 8) for c in g[i]] + [0]
    z.append(row)
    if i in rule_after:
        ye.append(ye[-1] + rule_h)
        z.append([0] * ncols)

k = len(colors)
cscale = []
for j, c in enumerate(colors):
    cscale += [[j / k, c], [(j + 1) / k, c]]

fig = go.Figure()
fig.add_trace(go.Heatmap(
    z=z, x=xe, y=ye, zmin=-0.5, zmax=k - 0.5, colorscale=cscale,
    showscale=False, hoverinfo="skip", zsmooth=False,
))

# cell numbers, right aligned like Excel
tx, ty, tt = [], [], []
for gi, g in enumerate(parsed):
    base = 1 + gi * len(col_w)
    for i in range(n):
        for j, c in enumerate(g[i]):
            if c in label:
                tx.append(xe[base + j + 1] - 0.6)
                ty.append(centers[i])
                tt.append(label[c])
font = dict(family="Liberation Sans, Arial, sans-serif", size=7, color="black")
fig.add_trace(go.Scatter(x=tx, y=ty, text=tt, mode="text", textposition="middle left",
                         textfont=font, hoverinfo="skip", showlegend=False,
                         cliponaxis=False))

# header rows
hx, hy, ht = [], [], []
for gi, (name, _) in enumerate(groups):
    base = 1 + gi * len(col_w)
    hx.append(xe[base] + 2.5)
    hy.append(6)
    ht.append(name)
    for j, c in enumerate(col_names):
        hx.append(xe[base + j] + 1)
        hy.append(15.8)
        ht.append(c)
fig.add_trace(go.Scatter(x=hx, y=hy, text=ht, mode="text", textposition="middle right",
                         textfont=font, hoverinfo="skip", showlegend=False,
                         cliponaxis=False))

# date column
fig.add_trace(go.Scatter(x=[date_w - 1.5] * n, y=centers, text=dates, mode="text",
                         textposition="middle left",
                         textfont=dict(family="Liberation Sans, Arial, sans-serif",
                                       size=6.5, color="black"),
                         hoverinfo="skip", showlegend=False, cliponaxis=False))

grid = "#D0D7E5"
fig.update_layout(
    width=W, height=H, margin=dict(l=0, r=0, t=0, b=0),
    paper_bgcolor="white", plot_bgcolor="white", showlegend=False,
    xaxis=dict(range=[0, W], tickvals=xe, showticklabels=False, ticks="",
               showgrid=True, gridcolor=grid, gridwidth=1, zeroline=False, fixedrange=True),
    yaxis=dict(range=[H, 0], tickvals=[1, 11] + ye, showticklabels=False, ticks="",
               showgrid=True, gridcolor=grid, gridwidth=1, zeroline=False, fixedrange=True),
)

fig.write_html("out.html", config={"displayModeBar": False, "staticPlot": True},
               post_script="document.body.style.margin='0';document.body.style.overflow='hidden';")
